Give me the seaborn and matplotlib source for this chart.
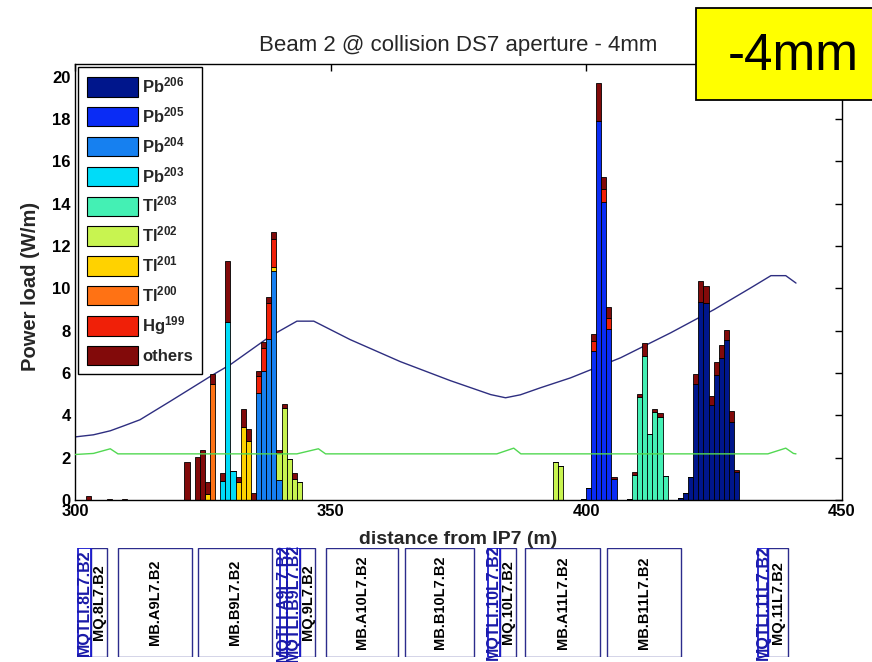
import numpy as np
import pandas as pd
import matplotlib
matplotlib.use("Agg")
import matplotlib.pyplot as plt
from matplotlib.patches import Patch, Rectangle
import seaborn as sns

# ---------------------------------------------------------------------------
# Isotope contributions, listed bottom of the stack first
isotopes = ["Pb206", "Pb205", "Pb204", "Pb203", "Tl203",
            "Tl202", "Tl201", "Tl200", "Hg199", "others"]
legend_labels = [r"$\mathbf{Pb^{206}}$", r"$\mathbf{Pb^{205}}$",
                 r"$\mathbf{Pb^{204}}$", r"$\mathbf{Pb^{203}}$",
                 r"$\mathbf{Tl^{203}}$", r"$\mathbf{Tl^{202}}$",
                 r"$\mathbf{Tl^{201}}$", r"$\mathbf{Tl^{200}}$",
                 r"$\mathbf{Hg^{199}}$", "others"]
isotope_colors = ["#00168c", "#0a2cf5", "#1680f0", "#00dcf8", "#44f0b4",
                  "#c8f450", "#ffd200", "#ff7214", "#f02008", "#820a0a"]

# Deposited power (W/m) per 1 m bin, keyed by bin centre s (m)
pb206_s = [418.4, 419.4, 420.4, 421.4, 422.4, 423.4, 424.4, 425.4, 426.4,
           427.4, 428.4, 429.4]
pb206_p = [0.1, 0.33, 1.1, 5.5, 9.35, 9.3, 4.5, 5.9, 6.7, 7.55, 3.7, 1.32]

pb205_s = [399.4, 400.4, 401.4, 402.4, 403.4, 404.4, 405.4]
pb205_p = [0.05, 0.57, 7.03, 17.9, 14.1, 8.06, 1.0]

pb204_s = [335.9, 336.9, 337.9, 338.9, 339.9]
pb204_p = [5.07, 6.08, 7.6, 10.8, 0.95]

pb203_s = [328.9, 329.9, 330.9]
pb203_p = [0.88, 8.4, 1.39]

tl203_s = [408.4, 409.4, 410.4, 411.4, 412.4, 413.4, 414.4, 415.4]
tl203_p = [0.05, 1.19, 4.85, 6.8, 3.1, 4.15, 3.9, 1.15]

tl202_s = [339.9, 340.9, 341.9, 342.9, 343.9, 393.9, 394.9]
tl202_p = [1.25, 4.35, 1.93, 0.97, 0.83, 1.8, 1.6]

tl201_s = [325.9, 331.9, 332.9, 333.9, 338.9]
tl201_p = [0.3, 0.85, 3.45, 2.8, 0.2]

tl200_s = [326.9]
tl200_p = [5.47]

hg199_s = [335.9, 336.9, 337.9, 338.9, 401.4, 403.4, 404.4]
hg199_p = [0.8, 1.1, 1.7, 1.34, 0.5, 0.6, 0.55]

others_s = [302.7, 306.7, 309.6, 321.9, 323.9, 324.9, 325.9, 326.9, 328.9,
            329.9, 331.9, 332.9, 333.9, 334.9, 335.9, 336.9, 337.9, 338.9,
            339.9, 340.9, 342.9, 401.4, 402.4, 403.4, 404.4, 405.4, 409.4,
            410.4, 411.4, 413.4, 414.4, 421.4, 422.4, 423.4, 424.4, 425.4,
            426.4, 427.4, 428.4, 429.4]
others_p = [0.19, 0.05, 0.05, 1.8, 2.02, 2.37, 0.55, 0.5, 0.4,
            2.9, 0.25, 0.85, 0.56, 0.33, 0.21, 0.28, 0.3, 0.3,
            0.17, 0.17, 0.3, 0.3, 1.8, 0.55, 0.53, 0.1, 0.15,
            0.15, 0.6, 0.15, 0.2, 0.47, 1.0, 0.8, 0.4, 0.6,
            0.6, 0.5, 0.5, 0.1]

# Reference curves along the line
navy_s = [300, 303.6, 306.9, 309.5, 312.7, 318.6, 327, 330.4, 338.2, 343.4,
          346.7, 353.8, 363.6, 373.4, 381.3, 384.2, 387.1, 391, 396.9, 406.7,
          416.5, 425, 432.2, 436.1, 439, 441]
navy_p = [2.98, 3.08, 3.27, 3.5, 3.79, 4.66, 5.92, 6.4, 7.74, 8.45,
          8.45, 7.58, 6.54, 5.64, 4.98, 4.83, 4.97, 5.3, 5.77, 6.72,
          7.9, 9.0, 10.03, 10.6, 10.6, 10.25]

green_s = [300, 303.6, 306.9, 308.4, 343.4, 347.6, 349.0, 382.5, 385.8,
           387.2, 435.5, 439.0, 440.5, 441]
green_p = [2.15, 2.2, 2.42, 2.18, 2.18, 2.42, 2.18, 2.18, 2.45,
           2.18, 2.18, 2.45, 2.2, 2.18]

# Lattice elements below the plot (start / end, m)
mb_names = ["MB.A9L7.B2", "MB.B9L7.B2", "MB.A10L7.B2", "MB.B10L7.B2",
            "MB.A11L7.B2", "MB.B11L7.B2"]
mb_start = [308.4, 324.1, 349.1, 364.6, 388.1, 404.0]
mb_end = [322.9, 338.6, 363.2, 378.1, 402.6, 418.5]

mq_names = ["MQ.8L7.B2", "MQ.9L7.B2", "MQ.10L7.B2", "MQ.11L7.B2"]
mq_start = [303.1, 344.1, 383.1, 435.6]
mq_end = [306.3, 347.0, 386.2, 439.4]

mqtli_names = ["MQTLI.8L7.B2", "MQTLI.A9L7.B2", "MQTLI.B9L7.B2",
               "MQTLI.10L7.B2", "MQTLI.11L7.B2"]
mqtli_start = [300.6, 340.1, 341.5, 380.7, 433.5]
mqtli_end = [303.1, 341.5, 344.1, 383.1, 435.6]

# ---------------------------------------------------------------------------
sns.set_theme(style="white")
plt.rcParams["font.family"] = ["Liberation Sans", "DejaVu Sans"]
plt.rcParams["mathtext.fontset"] = "custom"
plt.rcParams["mathtext.rm"] = "Liberation Sans"
plt.rcParams["mathtext.bf"] = "Liberation Sans:bold"
plt.rcParams["mathtext.it"] = "Liberation Sans:italic"

series = {
    "Pb206": (pb206_s, pb206_p), "Pb205": (pb205_s, pb205_p),
    "Pb204": (pb204_s, pb204_p), "Pb203": (pb203_s, pb203_p),
    "Tl203": (tl203_s, tl203_p), "Tl202": (tl202_s, tl202_p),
    "Tl201": (tl201_s, tl201_p), "Tl200": (tl200_s, tl200_p),
    "Hg199": (hg199_s, hg199_p), "others": (others_s, others_p),
}
rows = [(s, name, p) for name, (ss, pp) in series.items() for s, p in zip(ss, pp)]
df = pd.DataFrame(rows, columns=["s", "isotope", "power"])

centres = np.unique(df["s"].values)
edges = np.unique(np.round(np.concatenate([centres - 0.5, centres + 0.5]), 3))
palette = dict(zip(isotopes, isotope_colors))

W, H = 872, 662
fig = plt.figure(figsize=(W / 100, H / 100), dpi=100)
fig.patch.set_facecolor("white")
ax = fig.add_axes([75 / W, 1 - 500 / H, 767 / W, 436 / H])

sns.lineplot(x=navy_s, y=navy_p, color="#2e2e80", lw=1.0, sort=False,
             estimator=None, ax=ax, zorder=1)
sns.histplot(data=df, x="s", weights="power", hue="isotope",
             hue_order=isotopes[::-1], palette=palette, bins=edges.tolist(),
             multiple="stack", element="bars", edgecolor="black",
             linewidth=0.6, alpha=1, legend=False, ax=ax, zorder=2)
sns.lineplot(x=green_s, y=green_p, color="#52d852", lw=1.0, sort=False,
             estimator=None, ax=ax, zorder=3)

ax.set_xlim(300, 450)
ax.set_ylim(0, 20.6)
ax.set_xticks([300, 350, 400, 450])
ax.set_yticks(np.arange(0, 21, 2))
ax.tick_params(direction="in", length=5, width=1, top=True, right=True,
               labelsize=12, pad=3, colors="black")
for lab in ax.get_xticklabels() + ax.get_yticklabels():
    lab.set_fontweight("bold")
for sp in ax.spines.values():
    sp.set_color("black")
    sp.set_linewidth(1.0)

ax.set_title("Beam 2 @ collision DS7 aperture - 4mm", fontsize=16, pad=9)
ax.set_ylabel("Power load (W/m)", fontsize=14.5, fontweight="bold")
ax.yaxis.set_label_coords(-0.045, 0.49)
ax.set_xlabel("distance from IP7 (m)", fontsize=14, fontweight="bold")
ax.xaxis.set_label_coords(0.5, -0.07)

handles = [Patch(facecolor=c, edgecolor="black", lw=0.8, label=l)
           for c, l in zip(isotope_colors, legend_labels)]
leg = ax.legend(handles=handles, loc="upper left", bbox_to_anchor=(0, 1),
                borderaxespad=0.2, frameon=True, fancybox=False,
                edgecolor="black", framealpha=1, handlelength=3.1,
                handleheight=1.4, labelspacing=0.53, handletextpad=0.25,
                borderpad=0.5, prop=dict(weight="bold", size=12))
leg.get_frame().set_linewidth(1.0)

# Element layout strip
ax2 = fig.add_axes([75 / W, 5 / H, 767 / W, 109 / H])
ax2.set_xlim(300, 450)
ax2.set_ylim(0, 1)
ax2.axis("off")
for name, a, b in zip(mb_names, mb_start, mb_end):
    ax2.add_patch(Rectangle((a, 0), b - a, 1, fill=False,
                            edgecolor="#2c2c8c", lw=1.0))
    ax2.text((a + b) / 2, 0.5, name, rotation=90, ha="center", va="center",
             fontsize=10.5, fontweight="bold", color="black")
for name, a, b in zip(mq_names, mq_start, mq_end):
    ax2.add_patch(Rectangle((a, 0), b - a, 1, fill=False,
                            edgecolor="#2c2c8c", lw=1.0))
    ax2.text((a + b) / 2, 0.5, name, rotation=90, ha="center", va="center",
             fontsize=10.5, fontweight="bold", color="black", clip_on=False)
for name, a, b in zip(mqtli_names, mqtli_start, mqtli_end):
    ax2.add_patch(Rectangle((a, 0), b - a, 1, fill=False,
                            edgecolor="#1c1cd0", lw=1.3))
    ax2.text((a + b) / 2, 0.5, name, rotation=90, ha="center", va="center",
             fontsize=11.5, fontweight="bold", color="#1a1aa8", clip_on=False)

# Aperture tag in the top-right corner
fig.add_artist(Rectangle((696 / W, 1 - 100 / H), 180 / W, 92 / H,
                         transform=fig.transFigure, facecolor="#ffff00",
                         edgecolor="black", lw=1.3, zorder=5))
fig.text(793 / W, 1 - 56 / H, "-4mm", ha="center", va="center",
         fontsize=37, color="black", zorder=6)

fig.savefig("out.png", dpi=100, facecolor="white")
